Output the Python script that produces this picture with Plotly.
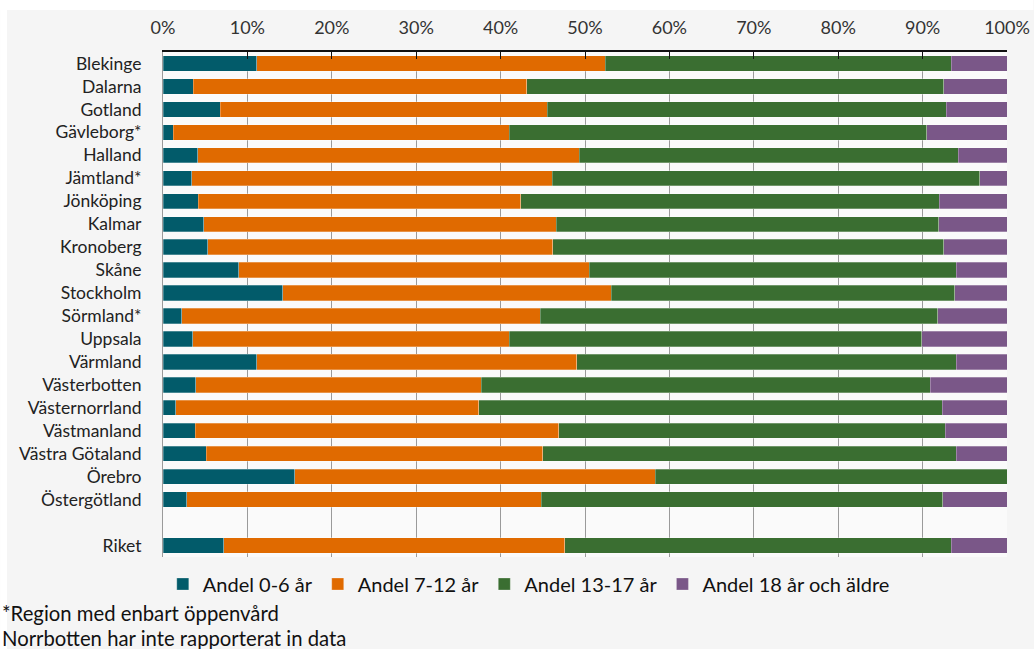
import plotly.graph_objects as go

# Regions (top to bottom); a blank slot separates the national total
regions = ["Blekinge", "Dalarna", "Gotland", "Gävleborg*", "Halland", "Jämtland*",
           "Jönköping", "Kalmar", "Kronoberg", "Skåne", "Stockholm", "Sörmland*",
           "Uppsala", "Värmland", "Västerbotten", "Västernorrland", "Västmanland",
           "Västra Götaland", "Örebro", "Östergötland", " ", "Riket"]

# Share of patients per age group, percent (None for the blank slot)
andel_0_6 = [11.1, 3.6, 6.8, 1.2, 4.1, 3.4, 4.2, 4.8, 5.3, 9.0, 14.2, 2.2,
             3.5, 11.1, 3.9, 1.5, 3.8, 5.1, 15.6, 2.8, None, 7.2]
andel_7_12 = [41.3, 39.5, 38.7, 39.8, 45.2, 42.7, 38.2, 41.8, 40.9, 41.5, 38.9, 42.5,
              37.5, 37.9, 33.8, 35.9, 43.1, 39.9, 42.7, 42.0, None, 40.4]
andel_13_17 = [41.0, 49.4, 47.3, 49.5, 44.9, 50.7, 49.6, 45.3, 46.3, 43.5, 40.7, 47.1,
               48.9, 45.0, 53.2, 54.9, 45.8, 49.0, 41.7, 47.6, None, 45.8]
andel_18 = [6.6, 7.5, 7.2, 9.5, 5.8, 3.2, 8.0, 8.1, 7.5, 6.0, 6.2, 8.2,
            10.1, 6.0, 9.1, 7.7, 7.3, 6.0, 0.0, 7.6, None, 6.6]

series = [
    ("Andel 0-6 år", andel_0_6, "#025b6a"),
    ("Andel 7-12 år", andel_7_12, "#e06a00"),
    ("Andel 13-17 år", andel_13_17, "#3a6e31"),
    ("Andel 18 år och äldre", andel_18, "#7a5788"),
]

ticks = list(range(0, 101, 10))
tick_labels = [f"{t}%" for t in ticks]

FONT = "Lato"
fig = go.Figure()
for name, vals, col in series:
    fig.add_trace(go.Bar(
        y=regions, x=vals, name=name, orientation="h",
        marker=dict(color=col, line=dict(width=0.6, color="rgba(255,255,255,0.45)")),
        width=0.667, hoverinfo="skip",
    ))

W, H = 1034, 649
L, R, T, B = 163, 26.5, 52, 92
pw, ph = W - L - R, H - T - B

def px_x(x):
    return (x - L) / pw

def px_y(y):
    return 1 - (y - T) / ph

fig.update_layout(
    width=W, height=H, barmode="stack",
    margin=dict(l=L, r=R, t=T, b=B, pad=0),
    paper_bgcolor="#f5f5f5", plot_bgcolor="#fafafa",
    font=dict(family=FONT, size=17, color="#222222"),
    bargap=0.333,
    showlegend=True,
    legend=dict(orientation="h", x=px_x(529), xanchor="center", y=px_y(584), yanchor="middle",
                font=dict(family=FONT, size=20, color="#111111"),
                bgcolor="rgba(0,0,0,0)", itemclick=False, itemdoubleclick=False,
                traceorder="normal", itemwidth=30),
    xaxis=dict(side="top", range=[0, 100], tickmode="array", tickvals=ticks, ticktext=tick_labels,
               showgrid=True, gridcolor="#9a9a9a", gridwidth=1,
               showline=True, linecolor="#111111", linewidth=1.5,
               ticks="inside", ticklen=7, tickcolor="#111111", tickwidth=1.2,
               ticklabelstandoff=9, automargin=False,
               tickfont=dict(family=FONT, size=18, color="#333333"),
               zeroline=False, fixedrange=True),
    yaxis=dict(categoryorder="array", categoryarray=regions, autorange="reversed",
               showline=True, linecolor="#9a9a9a", linewidth=1,
               ticks="", ticklabelstandoff=17, automargin=False,
               tickfont=dict(family=FONT, size=17.5, color="#222222"),
               fixedrange=True),
    shapes=[
        dict(type="rect", xref="paper", yref="paper", layer="below",
             x0=px_x(0), x1=px_x(W), y0=px_y(0), y1=px_y(10),
             fillcolor="#ffffff", line=dict(width=0)),
        dict(type="rect", xref="paper", yref="paper", layer="below",
             x0=px_x(0), x1=px_x(7), y0=px_y(H), y1=px_y(0),
             fillcolor="#ffffff", line=dict(width=0)),
    ],
    annotations=[
        dict(text="*Region med enbart öppenvård", xref="paper", yref="paper",
             x=px_x(0), y=px_y(613), xanchor="left", yanchor="middle", showarrow=False,
             font=dict(family=FONT, size=20.3, color="#111111")),
        dict(text="Norrbotten har inte rapporterat in data", xref="paper", yref="paper",
             x=px_x(0), y=px_y(638), xanchor="left", yanchor="middle", showarrow=False,
             font=dict(family=FONT, size=20.3, color="#111111")),
    ],
)

fig.write_html("out.html", config={"displayModeBar": False})
